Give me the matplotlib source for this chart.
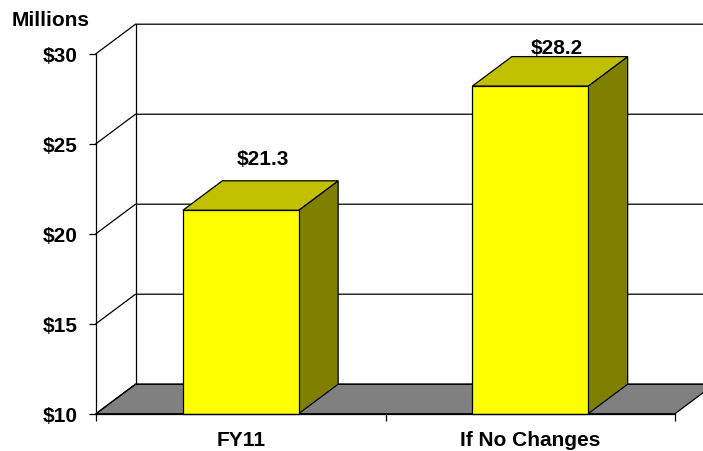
""" 3D look bar chart, FY11 vs no changes
"""

import matplotlib
matplotlib.use('Agg')
import matplotlib.pyplot as plt
from matplotlib.patches import Polygon

categories = ['FY11', 'If No Changes']
values = [21.3, 28.2]
value_labels = ['$21.3', '$28.2']
y_ticks = [10, 15, 20, 25, 30]
y_tick_labels = ['$10', '$15', '$20', '$25', '$30']

plt.rcParams['font.family'] = ['Liberation Sans', 'DejaVu Sans']
plt.rcParams['font.weight'] = 'bold'

W, H = 703, 452
fig = plt.figure(figsize=(W / 100, H / 100), dpi=100)

# front plane of the chart, in pixels of the picture
left, right, top, bottom = 96, 675, 54.7, 414.7
ax = fig.add_axes([left / W, 1 - bottom / H, (right - left) / W, (bottom - top) / H])
ax.set_xlim(-0.5, len(categories) - 0.5)
ax.set_ylim(y_ticks[0], y_ticks[-1])
ax.patch.set_visible(False)

# depth of the fake 3D, as data units
dx = 39.5 * (len(categories)) / (right - left)
dy = 29.5 * (y_ticks[-1] - y_ticks[0]) / (bottom - top)
half = 0.2
line = 0.9
font_size = 15
x0, x1 = ax.get_xlim()
y0 = y_ticks[0]

# the two value labels do not sit at the same height over their bars
label_offsets = [(1.5, 9), (5, -0.5)]


def poly(points, color, z, edge='black', lw=line):
    ax.add_patch(Polygon(points, closed=True, facecolor=color, edgecolor=edge,
                         linewidth=lw, zorder=z, clip_on=False, joinstyle='miter'))


# floor
poly([(x0, y0), (x1, y0), (x1 + dx, y0 + dy), (x0 + dx, y0 + dy)], '#808080', 1)

# gridlines on left wall and back wall
for t in y_ticks:
    ax.plot([x0, x0 + dx, x1 + dx], [t, t + dy, t + dy], color='black', lw=line,
            zorder=2, clip_on=False, solid_joinstyle='miter')
ax.plot([x0 + dx, x0 + dx], [y0 + dy, y_ticks[-1] + dy], color='black', lw=line, zorder=2, clip_on=False)

# bars
for i, v in enumerate(values):
    a, b = i - half, i + half
    poly([(b, y0), (b + dx, y0 + dy), (b + dx, v + dy), (b, v)], '#808000', 3)
    poly([(a, v), (b, v), (b + dx, v + dy), (a + dx, v + dy)], '#C0C000', 3)
    poly([(a, y0), (b, y0), (b, v), (a, v)], '#FFFF00', 4)
    ax.annotate(value_labels[i], (i + dx / 2, v + dy), xytext=label_offsets[i], textcoords='offset points',
                ha='center', va='bottom', fontsize=font_size, fontweight='bold', zorder=5, annotation_clip=False)

ax.set_yticks(y_ticks)
ax.set_yticklabels(y_tick_labels, fontsize=font_size, fontweight='bold')
ax.set_xticks([-0.5, 0.5, 1.5])
ax.set_xticklabels([])
ax.set_xticks([0, 1], minor=True)
ax.set_xticklabels(categories, minor=True, fontsize=font_size, fontweight='bold')
ax.tick_params(axis='x', which='major', length=5, width=line, color='black')
ax.tick_params(axis='x', which='minor', length=0, pad=12)
ax.tick_params(axis='y', length=5, width=line, pad=8, color='black')

for side in ['top', 'right']:
    ax.spines[side].set_visible(False)
ax.spines['left'].set_linewidth(line)
ax.spines['bottom'].set_linewidth(line)
ax.spines['left'].set_zorder(6)
ax.spines['bottom'].set_zorder(6)

fig.text(12 / W, 1 - 21 / H, 'Millions', fontsize=font_size, fontweight='bold', ha='left', va='center')

plt.savefig('out.png', dpi=100)
